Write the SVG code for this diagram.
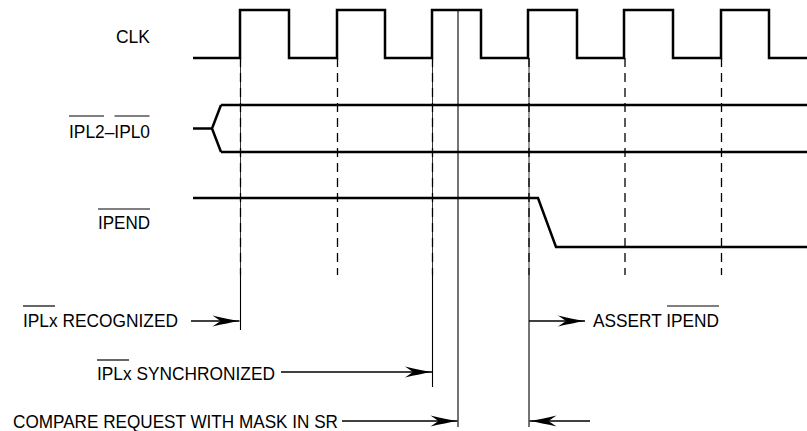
<svg xmlns="http://www.w3.org/2000/svg" width="807" height="431" viewBox="0 0 807 431">
  <style>
    text { font-family: "Liberation Sans", Arial, sans-serif; font-size: 18px; fill: #000; }
    .sig { fill: none; stroke: #000; stroke-width: 2.5; stroke-linejoin: miter; }
    .bar { stroke: #000; stroke-width: 1.2; }
    .dash { stroke: #000; stroke-width: 1.3; stroke-dasharray: 9 6; fill: none; }
    .vthin { stroke: #000; stroke-width: 0.8; fill: none; }
    .vsolid { stroke: #000; stroke-width: 1.1; fill: none; }
    .arr { stroke: #000; stroke-width: 1.6; fill: none; marker-end: url(#ah); }
  </style>
  <defs>
    <marker id="ah" markerUnits="userSpaceOnUse" viewBox="-28 -7 29 14" markerWidth="29" markerHeight="14" refX="0" refY="0" orient="auto">
      <path d="M0,0 Q-12,-2 -27,-5.5 L-19,0 L-27,5.5 Q-12,2 0,0 Z" fill="#000"/>
    </marker>
  </defs>
  <rect width="807" height="431" fill="#fff"/>

  <g id="clk">
    <text x="116" y="43" textLength="34" lengthAdjust="spacingAndGlyphs">CLK</text>
    <path class="sig" d="M193,58 H240 V10 H289 V58 H337 V10 H385 V58 H432 V10 H481 V58 H528 V10 H577 V58 H624 V10 H673 V58 H721 V10 H769 V58 H807"/>
  </g>

  <g id="ipl">
    <text x="69" y="138" textLength="81" lengthAdjust="spacingAndGlyphs">IPL2–IPL0</text>
    <line class="bar" x1="69" y1="116" x2="104" y2="116"/>
    <line class="bar" x1="114.5" y1="116" x2="149.5" y2="116"/>
    <path class="sig" d="M193,128.5 H212 M221,105 L212,128.5 L221,152 M221,105 H807 M221,152 H807"/>
  </g>

  <g id="ipend">
    <text x="98" y="229" textLength="52" lengthAdjust="spacingAndGlyphs">IPEND</text>
    <line class="bar" x1="98" y1="209" x2="150" y2="209"/>
    <path class="sig" d="M193,198 H538 L556,247 H807"/>
  </g>

  <g id="connectors">
    <!-- dashed clock reference lines -->
    <line class="dash" x1="240.5" y1="58" x2="240.5" y2="275"/>
    <line class="dash" x1="337.5" y1="58" x2="337.5" y2="275"/>
    <line class="dash" x1="432.5" y1="58" x2="432.5" y2="275"/>
    <line class="dash" x1="529" y1="58" x2="529" y2="275"/>
    <line class="dash" x1="625" y1="58" x2="625" y2="275"/>
    <line class="dash" x1="721.5" y1="58" x2="721.5" y2="275"/>
    <!-- solid timing lines -->
    <line class="vthin" x1="240.5" y1="58" x2="240.5" y2="275"/>
    <line class="vsolid" x1="240.5" y1="275" x2="240.5" y2="330"/>
    <line class="vthin" x1="432.5" y1="58" x2="432.5" y2="275"/>
    <line class="vsolid" x1="432.5" y1="275" x2="432.5" y2="387"/>
    <line class="vsolid" x1="458" y1="10" x2="458" y2="427"/>
    <line class="vthin" x1="529" y1="58" x2="529" y2="275"/>
    <line class="vsolid" x1="529" y1="275" x2="529" y2="427"/>
    <!-- arrows -->
    <line class="arr" x1="191" y1="321" x2="239.5" y2="321"/>
    <line class="arr" x1="529" y1="321" x2="585" y2="321"/>
    <line class="arr" x1="281" y1="372" x2="432" y2="372"/>
    <line class="arr" x1="342" y1="421" x2="457.5" y2="421"/>
    <line class="arr" x1="590" y1="421" x2="529.5" y2="421"/>
  </g>

  <g id="labels">
    <text x="23" y="327" textLength="155" lengthAdjust="spacingAndGlyphs">IPLx RECOGNIZED</text>
    <line class="bar" x1="23" y1="306" x2="55" y2="306"/>
    <text x="97" y="380" textLength="178" lengthAdjust="spacingAndGlyphs">IPLx SYNCHRONIZED</text>
    <line class="bar" x1="97" y1="360" x2="129" y2="360"/>
    <text x="13" y="428" textLength="325" lengthAdjust="spacingAndGlyphs">COMPARE REQUEST WITH MASK IN SR</text>
    <text x="593" y="327" textLength="126" lengthAdjust="spacingAndGlyphs">ASSERT IPEND</text>
    <line class="bar" x1="667" y1="306" x2="719" y2="306"/>
  </g>
</svg>
